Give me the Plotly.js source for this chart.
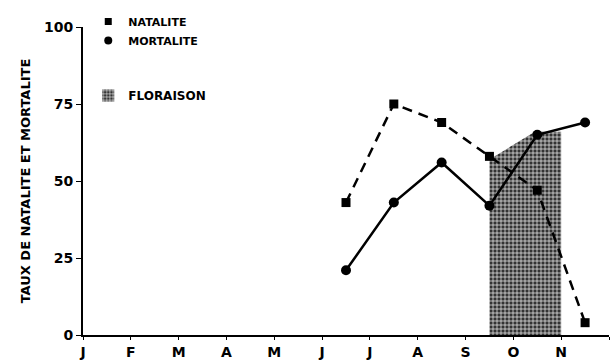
<!DOCTYPE html>
<html>
<head>
<meta charset="utf-8">
<script src="https://cdn.plot.ly/plotly-3.0.1.min.js"></script>
<style>html,body{margin:0;padding:0;background:#fff;}#chart{width:610px;height:363px;}</style>
</head>
<body>
<div id="chart"></div>
<script>
// Month tick labels (J = janvier ... D = décembre)
const monthLabels = ['J','F','M','A','M','J','J','A','S','O','N','D'];
const monthPositions = [0,1,2,3,4,5,6,7,8,9,10,11];

// Sampling dates (mid-month positions, June to November)
const sampleX = [5.5, 6.5, 7.5, 8.5, 9.5, 10.5];
const natalite = [43, 75, 69, 58, 47, 4];
const mortalite = [21, 43, 56, 42, 65, 69];

// Flowering period (floraison) outline
const floraisonX = [8.5, 8.5, 9.45, 10.0, 10.0, 8.5];
const floraisonY = [0, 57, 66, 66, 0, 0];

const FAM = 'DejaVu Sans, Liberation Sans, Arial, sans-serif';
const tickFont = {family: FAM, size: 14, color: '#000', weight: 700};
const floraisonPattern = {shape: '+', size: 4, solidity: 0.3, fgcolor: '#ffffff', bgcolor: '#333333'};

const traces = [
  {
    x: floraisonX, y: floraisonY, type: 'scatter', mode: 'lines',
    fill: 'toself', fillcolor: '#555',
    fillpattern: floraisonPattern,
    line: {width: 0, color: 'rgba(0,0,0,0)'},
    name: 'FLORAISON', showlegend: false, hoverinfo: 'skip'
  },
  {
    x: sampleX, y: natalite, type: 'scatter', mode: 'lines+markers',
    line: {color: '#000', width: 2.5, dash: '10px,7px'},
    marker: {symbol: 'square', size: 9, color: '#000'},
    name: 'NATALITE', showlegend: false
  },
  {
    x: sampleX, y: mortalite, type: 'scatter', mode: 'lines+markers',
    line: {color: '#000', width: 2.5},
    marker: {symbol: 'circle', size: 10, color: '#000'},
    name: 'MORTALITE', showlegend: false
  },
  {
    x: [null], y: [null], type: 'scatter', mode: 'markers',
    marker: {symbol: 'square', size: 7, color: '#000'}, name: 'NATALITE', legend: 'legend'
  },
  {
    x: [null], y: [null], type: 'scatter', mode: 'markers',
    marker: {symbol: 'circle', size: 8, color: '#000'}, name: 'MORTALITE', legend: 'legend'
  },
  {
    x: [null], y: [null], type: 'bar',
    marker: {color: '#333', line: {width: 0}, pattern: floraisonPattern},
    name: 'FLORAISON', legend: 'legend2'
  }
];

const layout = {
  width: 610, height: 363,
  margin: {l: 83, r: 1, t: 27, b: 28},
  paper_bgcolor: '#fff', plot_bgcolor: '#fff',
  showlegend: true,
  xaxis: {
    range: [0, 11], tickvals: monthPositions, ticktext: monthLabels,
    showgrid: false, zeroline: false, showline: true, linecolor: '#000', linewidth: 2,
    ticks: 'outside', ticklen: 3, tickcolor: '#000', tickfont: tickFont, fixedrange: true
  },
  yaxis: {
    range: [0, 100], tickvals: [0, 25, 50, 75, 100],
    showgrid: false, zeroline: false, showline: true, linecolor: '#000', linewidth: 2,
    ticks: 'outside', ticklen: 5, tickcolor: '#000', tickfont: tickFont,
    title: {text: 'TAUX DE NATALITE ET MORTALITE', font: {family: FAM, size: 13, color: '#000', weight: 700}, standoff: 10},
    fixedrange: true
  },
  legend: {
    x: 0.01, y: 1.065, xanchor: 'left', yanchor: 'top',
    bgcolor: 'rgba(0,0,0,0)', font: {family: FAM, size: 11, color: '#000', weight: 700},
    tracegroupgap: 0, itemwidth: 30
  },
  legend2: {
    x: 0.01, y: 0.825, xanchor: 'left', yanchor: 'top',
    bgcolor: 'rgba(0,0,0,0)', font: {family: FAM, size: 12, color: '#000', weight: 700},
    itemwidth: 30
  }
};

Plotly.newPlot('chart', traces, layout, {staticPlot: true, displayModeBar: false});
</script>
</body>
</html>
